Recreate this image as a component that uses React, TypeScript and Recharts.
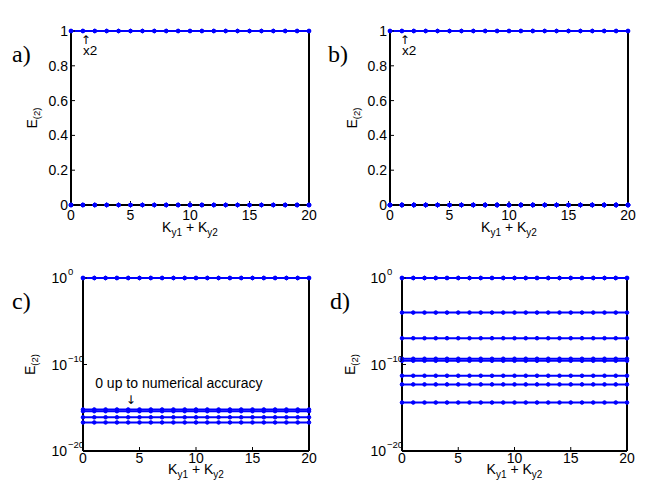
import React from 'react'
import { LineChart, Line, XAxis, YAxis, ReferenceDot, ReferenceLine, Label } from 'recharts'

const kValues = [0, 1, 2, 3, 4, 5, 6, 7, 8, 9, 10, 11, 12, 13, 14, 15, 16, 17, 18, 19, 20]
const xTicks = [0, 5, 10, 15, 20]
const linearTicks = [0, 0.2, 0.4, 0.6, 0.8, 1]
const logTicks = [1e-20, 1e-10, 1]

// E_(2) levels, constant over K; the top level is doubled ("x2")
const lllLevels = [1, 1, 6.3e-16, 4e-16, 7.9e-17, 2e-17]
const hofLevels = [1, 1, 1e-4, 1.1e-7, 4.6e-10, 2.7e-10, 5e-12, 5e-13, 4e-15]

const BLUE = '#0000ff'
const FONT = '"Liberation Sans", Arial, Helvetica, sans-serif'
const SERIF = '"Liberation Serif", "DejaVu Serif", serif'
const ARROW = '"DejaVu Sans", sans-serif'
const W = 324
const H = 243

const buildRows = (levels: number[]) =>
  kValues.map((k) => {
    const row: Record<string, number> = { k }
    levels.forEach((v, i) => {
      row['s' + i] = v
    })
    return row
  })

const LogTick = (props: any) => {
  const { x, y, payload } = props
  const exp = Math.round(Math.log10(payload.value))
  return (
    <g>
      <text x={x} y={y} dy={5} textAnchor="end" fontSize={14} fontFamily={FONT} fill="#000">
        10
      </text>
      <text x={x + 1} y={y} dy={-3} textAnchor="start" fontSize={9.5} fontFamily={FONT} fill="#000">
        {exp === 0 ? '0' : '\u2212' + Math.abs(exp)}
      </text>
    </g>
  )
}

interface PanelProps {
  left: number
  top: number
  levels: number[]
  log: boolean
  title: string
  letter: string
  plotLeft: number
  mRight: number
  mTop: number
  mBottom: number
  xTickMargin: number
  xLabelOff: number
  yLabelX: number
  letterX: number
  note?: 'x2' | 'zero'
}

const Panel: React.FC<PanelProps> = (p) => {
  const data = buildRows(p.levels)
  const domain: [number, number] = p.log ? [1e-20, 1] : [0, 1]
  const ticks = p.log ? logTicks : linearTicks
  const scale = p.log ? 'log' : 'linear'

  const yLabel = (props: any) => {
    const vb = props.viewBox
    const cy = vb.y + vb.height / 2
    const x = vb.x + p.yLabelX
    return (
      <g>
        <text
          transform={`rotate(-90 ${x} ${cy})`}
          x={x}
          y={cy}
          textAnchor="middle"
          fontSize={14}
          fontFamily={FONT}
          fill="#000"
        >
          E<tspan fontSize={9.5} dy={3}>(2)</tspan>
        </text>
        <text x={vb.x + p.letterX} y={vb.y + 31} fontSize={24} fontFamily={SERIF} fill="#000">
          {p.letter}
        </text>
      </g>
    )
  }

  const xLabel = (props: any) => {
    const vb = props.viewBox
    return (
      <text x={vb.x + vb.width / 2} y={vb.y + p.xLabelOff} textAnchor="middle" fontSize={14} fontFamily={FONT} fill="#000">
        K<tspan fontSize={10} dy={4}>y1</tspan>
        <tspan dy={-4}> + K</tspan>
        <tspan fontSize={10} dy={4}>y2</tspan>
      </text>
    )
  }

  const titleLabel = (props: any) => {
    const vb = props.viewBox
    return (
      <text x={vb.x + vb.width / 2} y={vb.y - 11} textAnchor="middle" fontSize={13.5} fontFamily={FONT} fill="#000">
        {p.title}
      </text>
    )
  }

  const noteShape = (props: any) => {
    const { cx, cy } = props
    if (p.note === 'x2') {
      return (
        <g fill="#000">
          <text x={cx + 3} y={cy + 13} textAnchor="middle" fontSize={12} fontFamily={ARROW}>↑</text>
          <text x={cx} y={cy + 24} fontSize={13.5} fontFamily={FONT}>x2</text>
        </g>
      )
    }
    return (
      <g fill="#000">
        <text x={cx - 33} y={cy - 21} fontSize={14} fontFamily={FONT}>0 up to numerical accuracy</text>
        <text x={cx + 2.5} y={cy - 5} textAnchor="middle" fontSize={12} fontFamily={ARROW}>↓</text>
      </g>
    )
  }

  return (
    <div style={{ position: 'absolute', left: p.left, top: p.top, width: W, height: H }}>
      <LineChart
        width={W}
        height={H}
        data={data}
        margin={{ top: p.mTop, right: p.mRight, bottom: p.mBottom, left: 0 }}
      >
        <XAxis
          xAxisId="b"
          dataKey="k"
          type="number"
          domain={[0, 20]}
          ticks={xTicks}
          height={30}
          tickSize={-4}
          tickMargin={p.xTickMargin}
          tick={{ fontSize: 14, fill: '#000', fontFamily: FONT }}
          axisLine={{ stroke: '#000', strokeWidth: 2 }}
          tickLine={{ stroke: '#000' }}
        >
          <Label content={xLabel} />
        </XAxis>
        <XAxis
          xAxisId="t"
          orientation="top"
          type="number"
          domain={[0, 20]}
          ticks={xTicks}
          height={0}
          tickSize={-4}
          tick={false}
          axisLine={{ stroke: '#000', strokeWidth: 2 }}
          tickLine={{ stroke: '#000' }}
        >
          <Label content={titleLabel} />
        </XAxis>
        <YAxis
          yAxisId="l"
          type="number"
          scale={scale}
          domain={domain}
          ticks={ticks}
          width={p.plotLeft}
          tickSize={-4}
          tickMargin={p.log ? 20 : 7}
          tick={p.log ? <LogTick /> : { fontSize: 14, fill: '#000', fontFamily: FONT }}
          axisLine={{ stroke: '#000', strokeWidth: 2 }}
          tickLine={{ stroke: '#000' }}
        >
          <Label content={yLabel} />
        </YAxis>
        {/* right-hand edge of the box */}
        <ReferenceLine xAxisId="b" yAxisId="l" x={20} stroke="#000" strokeWidth={2} ifOverflow="visible" />
        {p.levels.map((_, i) => (
          <Line
            key={i}
            xAxisId="b"
            yAxisId="l"
            type="linear"
            dataKey={'s' + i}
            stroke={BLUE}
            strokeWidth={2}
            dot={{ r: 1.8, fill: BLUE, stroke: BLUE, strokeWidth: 1 }}
            activeDot={false}
            isAnimationActive={false}
          />
        ))}
        {p.note && (
          <ReferenceDot
            xAxisId="b"
            yAxisId="l"
            x={p.note === 'x2' ? 1 : 4}
            y={p.note === 'x2' ? p.levels[0] : p.levels[2]}
            r={0}
            shape={noteShape}
          />
        )}
      </LineChart>
    </div>
  )
}

const App: React.FC = () => (
  <div style={{ position: 'absolute', left: 0, top: 0, width: 648, height: 487, background: '#fff' }}>
    <Panel
      left={0} top={0} levels={lllLevels} log={false} title="LLL" letter="a)"
      plotLeft={71} mRight={15} mTop={31} mBottom={8}
      xTickMargin={9} xLabelOff={27} yLabelX={36.5} letterX={12} note="x2"
    />
    <Panel
      left={324} top={0} levels={hofLevels} log={false} title="Hofstadter" letter="b)"
      plotLeft={66} mRight={20} mTop={31} mBottom={8}
      xTickMargin={9} xLabelOff={27} yLabelX={33} letterX={4} note="x2"
    />
    <Panel
      left={0} top={243} levels={lllLevels} log title="LLL" letter="c)"
      plotLeft={83} mRight={15} mTop={35} mBottom={5}
      xTickMargin={6} xLabelOff={23} yLabelX={35} letterX={12} note="zero"
    />
    <Panel
      left={324} top={243} levels={hofLevels} log title="Hofstadter" letter="d)"
      plotLeft={78} mRight={21} mTop={35} mBottom={5}
      xTickMargin={6} xLabelOff={23} yLabelX={31} letterX={6}
    />
  </div>
)

export default App
